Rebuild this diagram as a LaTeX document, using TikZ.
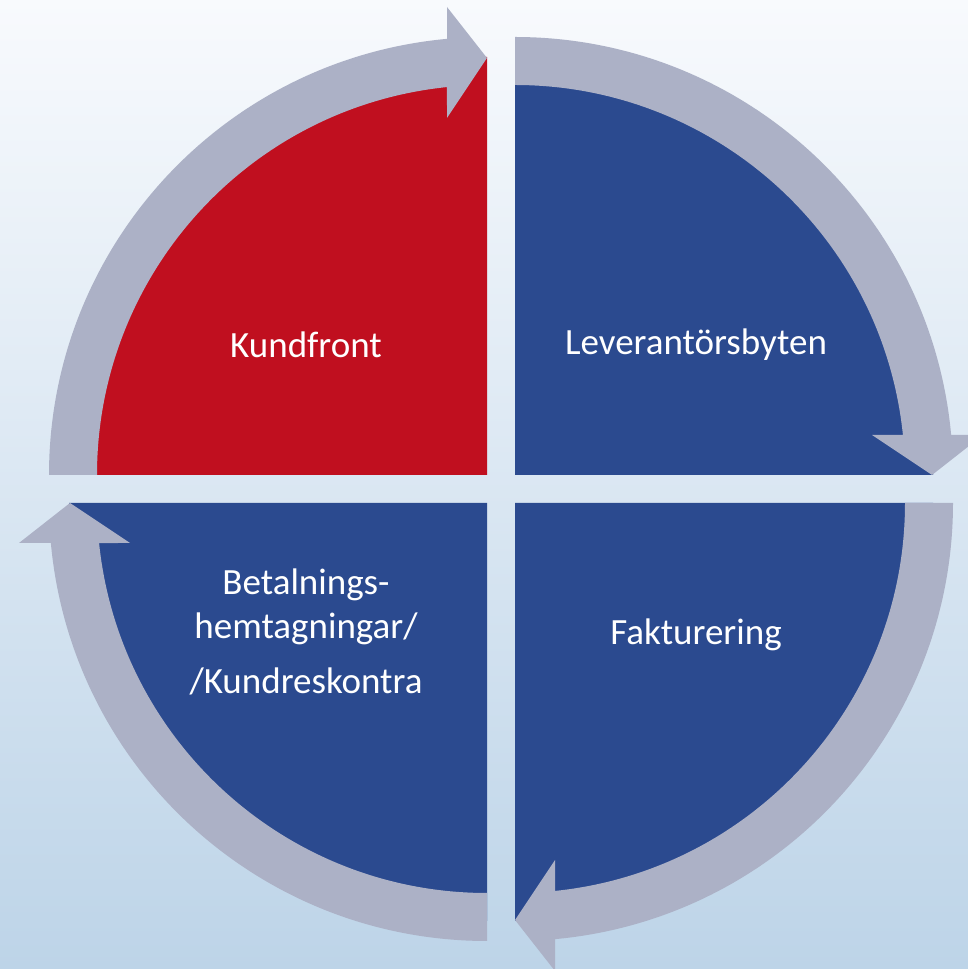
\documentclass[tikz,border=0pt]{standalone}
\usepackage{fontspec}
\setmainfont{Carlito}
\definecolor{quadred}{HTML}{C00F1F}
\definecolor{quadblue}{HTML}{2B4A8F}
\definecolor{arrowgray}{HTML}{ACB1C6}
\definecolor{bgtop}{HTML}{F8FAFD}
\definecolor{bgbottom}{HTML}{BDD4E8}
\tikzstyle{quadtext}=[text=white, align=center, font=\fontsize{37}{44}\selectfont]
\tikzstyle{cyclegray}=[fill=arrowgray]
% one quarter of the cycle: gray band with head, drawn for the top-left quarter
\newcommand{\cyclearrow}[2]{%
\fill[cyclegray,shift={#1},rotate=#2] (180:438) arc[start angle=180,end angle=95.24,radius=438]
  -- (-40,468) -- (0,417) -- (-40,357) -- (95.89:390)
  arc[start angle=95.89,end angle=180,radius=390] -- cycle;}

\begin{document}
\begin{tikzpicture}[x=1pt,y=1pt]
\shade[top color=bgtop, bottom color=bgbottom] (0,0) rectangle (968,969);
\useasboundingbox (0,0) rectangle (968,969);
% quarters
\coordinate (tl) at (487,494);
\coordinate (tr) at (515,494);
\coordinate (br) at (515,466);
\coordinate (bl) at (487,466);
\fill[quadred] (tl) -- ++(180:418) arc[start angle=180,end angle=90,radius=418] -- cycle;
\fill[quadblue] (tr) -- ++(90:418) arc[start angle=90,end angle=0,radius=418] -- cycle;
\fill[quadblue] (br) -- ++(0:418) arc[start angle=0,end angle=-90,radius=418] -- cycle;
\fill[quadblue] (bl) -- ++(270:418) arc[start angle=270,end angle=180,radius=418] -- cycle;
% arrows
\cyclearrow{(tl)}{0}
\cyclearrow{(tr)}{-90}
\cyclearrow{(br)}{-180}
\cyclearrow{(bl)}{90}
% texts
\node[quadtext](kund) at (306,624) {Kundfront};
\node[quadtext](lev) at (696,624) {Leverantörsbyten};
\node[quadtext](fakt) at (696,334) {Fakturering};
\node[quadtext](betal) at (306,337) {Betalnings-\\hemtagningar/\\[11pt]/Kundreskontra};
\end{tikzpicture}
\end{document}
